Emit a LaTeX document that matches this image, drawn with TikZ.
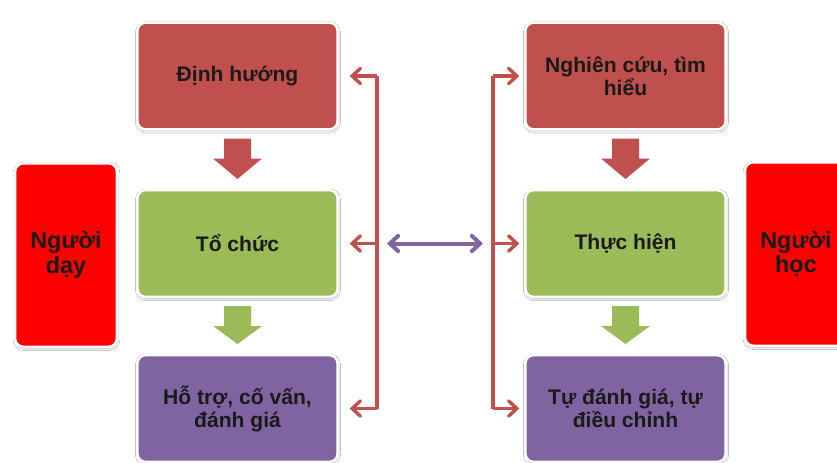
\documentclass[tikz,border=0pt]{standalone}
\usepackage{fontspec}
\setmainfont{Liberation Sans}
\usetikzlibrary{arrows.meta,calc,shadows.blur}
\definecolor{boxred}{HTML}{C0504D}
\definecolor{boxgreen}{HTML}{9BBB59}
\definecolor{boxpurple}{HTML}{8064A2}
\definecolor{sidered}{HTML}{FF0000}
\definecolor{textdark}{HTML}{1A1A1A}

\tikzset{
  stepbox/.style={rectangle, rounded corners=7pt, draw=white, line width=2pt,
    minimum width=6.0cm, minimum height=3.2cm, align=center, text=textdark,
    blur shadow={shadow xshift=0.4pt, shadow yshift=-1.2pt, shadow blur steps=6, shadow opacity=35}},
  rolebox/.style={stepbox, fill=sidered, minimum width=3.05cm, minimum height=5.5cm,
    font=\fontsize{20}{21}\selectfont\bfseries},
  bracket/.style={boxred, line width=2.9pt},
  bracketarrow/.style={bracket, -{Straight Barb[length=7pt, width=13pt, line cap=round]}},
  linkarrow/.style={boxpurple, line width=3.4pt,
    {Straight Barb[length=7pt, width=13pt, line cap=round]}-{Straight Barb[length=7pt, width=13pt, line cap=round]}}
}

\begin{document}
\begin{tikzpicture}[x=0.03cm, y=-0.03cm, font=\fontsize{18}{19.5}\selectfont\bfseries]
  \clip (0,0) rectangle (837,462);
  \fill[white] (0,0) rectangle (837,462);

  % teacher side
  \node[stepbox, fill=boxred] (dinh) at (237.5,76) {Định hướng};
  \node[stepbox, fill=boxgreen] (tochuc) at (237.5,243.5) {Tổ chức};
  \node[stepbox, fill=boxpurple] (hotro) at (237.5,408.5) {Hỗ trợ, cố vấn,\\đánh giá};
  \node[rolebox] (nguoiday) at (66,255) {Người\\dạy};

  % learner side
  \node[stepbox, fill=boxred] (nghien) at (625.5,76) {Nghiên cứu, tìm\\hiểu};
  \node[stepbox, fill=boxgreen] (thuchien) at (625.5,243.5) {Thực hiện};
  \node[stepbox, fill=boxpurple] (tudanh) at (625.5,408.5) {Tự đánh giá, tự\\điều chỉnh};
  \node[rolebox] (nguoihoc) at (796,254) {Người\\học};

  % block arrows down each column
  \foreach \a/\b/\c in {dinh/tochuc/boxred, tochuc/hotro/boxgreen, nghien/thuchien/boxred, thuchien/tudanh/boxgreen}
    \fill[\c] ($(\a.south)+(-13.5,8)$) -- ++(27,0) -- ++(0,20) -- ++(11,0)
      -- ($(\b.north)+(0,-10)$) -- ($(\a.south)+(-24.5,28)$) -- ++(11,0) -- cycle;

  % brackets
  \coordinate (lx) at (377,0);
  \coordinate (rx) at (493,0);
  \draw[bracket] (dinh.east -| lx) -- (hotro.east -| lx);
  \draw[bracket] (nghien.west -| rx) -- (tudanh.west -| rx);
  \foreach \n in {dinh,tochuc,hotro}
    \draw[bracketarrow] (\n.east -| lx) -- ($(\n.east)+(11,0)$);
  \foreach \n in {nghien,thuchien,tudanh}
    \draw[bracketarrow] (\n.west -| rx) -- ($(\n.west)+(-5,0)$);

  % link between the two sides
  \draw[linkarrow] ($(tochuc.east -| lx)+(10,0)$) -- ($(thuchien.west -| rx)+(-10,0)$);
\end{tikzpicture}
\end{document}
